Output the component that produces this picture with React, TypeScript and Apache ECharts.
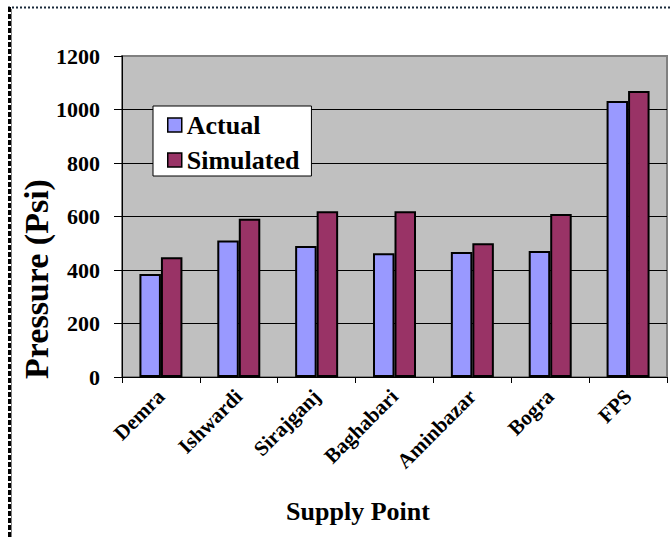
import React, { useEffect, useRef } from "react";
import * as echarts from "echarts";

const categories = ["Demra", "Ishwardi", "Sirajganj", "Baghabari", "Aminbazar", "Bogra", "FPS"];
const actual = [385, 510, 490, 463, 467, 471, 1032];
const simulated = [448, 592, 620, 620, 500, 609, 1069];
const seriesNames = ["Actual", "Simulated"];
const yTitle = "Pressure (Psi)";
const xTitle = "Supply Point";

const FONT = "Liberation Serif";

export default function App() {
  const ref = useRef<HTMLDivElement>(null);
  useEffect(() => {
    if (!ref.current) return;
    const chart = echarts.init(ref.current, null, { renderer: "svg" });
    chart.setOption({
      animation: false,
      backgroundColor: "#ffffff",
      textStyle: { fontFamily: FONT },
      grid: {
        left: 122,
        top: 56,
        width: 545,
        height: 321,
        show: true,
        backgroundColor: "#C0C0C0",
        borderColor: "#808080",
        borderWidth: 2,
        containLabel: false,
      },
      legend: {
        orient: "vertical",
        left: 153,
        top: 106,
        padding: [6, 12, 3, 14],
        itemGap: 9,
        itemWidth: 14,
        itemHeight: 14,
        icon: "rect",
        backgroundColor: "#ffffff",
        borderColor: "#000000",
        borderWidth: 1,
        itemStyle: { borderColor: "#000000", borderWidth: 1.5 },
        textStyle: {
          fontFamily: FONT,
          fontWeight: "bold",
          fontSize: 26,
          color: "#000",
          rich: {},
        },
        formatter: (name: string) => name,
        data: seriesNames,
      },
      xAxis: {
        type: "category",
        data: categories,
        axisLine: { show: true, lineStyle: { color: "#000", width: 1 } },
        axisTick: { show: true, length: 6, lineStyle: { color: "#000" } },
        axisLabel: {
          rotate: 45,
          margin: 16,
          interval: 0,
          fontFamily: FONT,
          fontWeight: "bold",
          fontSize: 21,
          color: "#000",
        },
        splitLine: { show: false },
      },
      yAxis: {
        type: "value",
        min: 0,
        max: 1200,
        interval: 200,
        axisLine: { show: true, lineStyle: { color: "#000", width: 1 } },
        axisTick: { show: true, length: 8, lineStyle: { color: "#000" } },
        axisLabel: {
          margin: 22,
          fontFamily: FONT,
          fontWeight: "bold",
          fontSize: 22,
          color: "#000",
          formatter: (v: number) => String(v),
        },
        splitLine: {
          show: true,
          showMinLine: false,
          showMaxLine: false,
          lineStyle: { color: "#000", width: 1 },
        },
      },
      series: [
        {
          name: seriesNames[0],
          type: "bar",
          data: actual,
          barWidth: 21.5,
          barGap: "0%",
          itemStyle: { color: "#9999FF", borderColor: "#000", borderWidth: 2 },
        },
        {
          name: seriesNames[1],
          type: "bar",
          data: simulated,
          barWidth: 21.5,
          barGap: "0%",
          itemStyle: { color: "#993366", borderColor: "#000", borderWidth: 2 },
        },
      ],
      graphic: [
        {
          type: "text",
          x: 36,
          y: 279,
          rotation: Math.PI / 2,
          style: {
            text: yTitle,
            font: "bold 34px Liberation Serif",
            fill: "#000",
            textAlign: "center",
            textVerticalAlign: "middle",
          },
        },
        {
          type: "text",
          x: 358,
          y: 511,
          style: {
            text: xTitle,
            font: "bold 26px Liberation Serif",
            fill: "#000",
            textAlign: "center",
            textVerticalAlign: "middle",
          },
        },
        {
          type: "line",
          shape: { x1: 8, y1: 7.5, x2: 672, y2: 7.5 },
          style: { stroke: "#1a2a3a", lineWidth: 2, lineDash: [2, 2] },
        },
        {
          type: "line",
          shape: { x1: 9.5, y1: 7, x2: 9.5, y2: 537 },
          style: { stroke: "#000", lineWidth: 3, lineDash: [5, 2] },
        },
        {
          type: "line",
          shape: { x1: 11.5, y1: 9, x2: 11.5, y2: 537 },
          style: { stroke: "#808080", lineWidth: 1 },
        },
      ],
    });
    return () => chart.dispose();
  }, []);
  return (
    <div
      ref={ref}
      style={{ position: "absolute", left: 0, top: 0, width: 672, height: 537 }}
    />
  );
}
